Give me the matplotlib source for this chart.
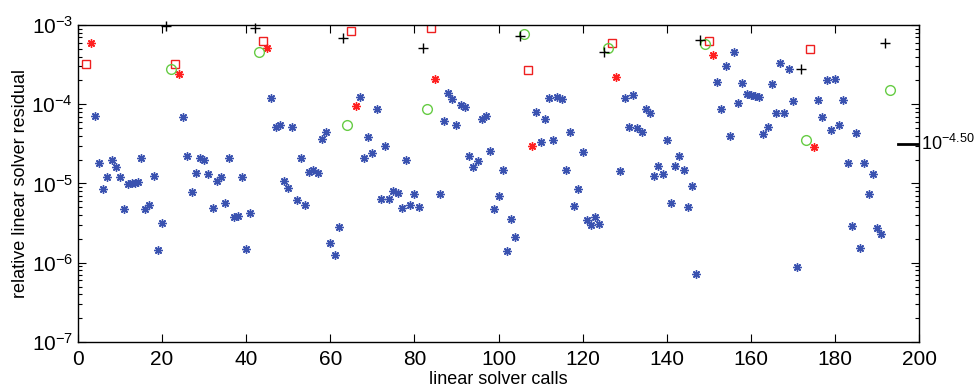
import numpy as np
import matplotlib
matplotlib.use("Agg")
import matplotlib.pyplot as plt
from matplotlib import font_manager

# blue asterisks: ordinary calls
blue_x = [4, 5, 6, 7, 8, 9, 10, 11, 12, 12.8, 13.5, 14.2, 15, 16, 17, 18, 19, 20,
          25, 26, 27, 28, 29, 30, 31, 32, 33, 34, 35, 36, 37, 38, 39, 40, 41,
          46, 47, 48, 49, 50, 51, 52, 53, 54, 55, 56, 57, 58, 59, 60, 61, 62,
          67, 68, 69, 70, 71, 72, 73, 74, 75, 76, 77, 78, 79, 80, 81,
          86, 87, 88, 89, 90, 91, 92, 93, 94, 95, 96, 97, 98, 99, 100, 101, 102, 103, 104,
          109, 110, 111, 112, 113, 114, 115, 116, 117, 118, 119, 120, 121, 122, 123, 124,
          129, 130, 131, 132, 133, 134, 135, 136, 137, 138, 139, 140, 141, 142, 143, 144, 145, 146, 147,
          152, 153, 154, 155, 156, 157, 158, 159, 160, 161, 162, 163, 164, 165, 166, 167, 168, 169, 170, 171,
          176, 177, 178, 179, 180, 181, 182, 183, 184, 185, 186, 187, 188, 189, 190, 191]
blue_y = [7.2e-5, 1.8e-5, 8.5e-6, 1.2e-5, 2.0e-5, 1.6e-5, 1.2e-5, 4.7e-6, 9.8e-6, 1.0e-5, 1.0e-5, 1.05e-5, 2.1e-5, 4.7e-6, 5.4e-6, 1.23e-5, 1.45e-6, 3.2e-6,
          6.9e-5, 2.2e-5, 7.8e-6, 1.35e-5, 2.1e-5, 2.0e-5, 1.3e-5, 4.9e-6, 1.07e-5, 1.2e-5, 5.6e-6, 2.1e-5, 3.8e-6, 3.9e-6, 1.2e-5, 1.5e-6, 4.3e-6,
          1.2e-4, 5.1e-5, 5.5e-5, 1.07e-5, 8.7e-6, 5.1e-5, 6.2e-6, 2.1e-5, 5.4e-6, 1.4e-5, 1.5e-5, 1.35e-5, 3.6e-5, 4.5e-5, 1.8e-6, 1.26e-6, 2.8e-6,
          1.23e-4, 2.1e-5, 3.9e-5, 2.4e-5, 8.7e-5, 6.3e-6, 2.95e-5, 6.3e-6, 8.1e-6, 7.6e-6, 4.9e-6, 2.0e-5, 5.4e-6, 7.4e-6, 5.0e-6,
          7.4e-6, 6.2e-5, 1.38e-4, 1.17e-4, 5.4e-5, 9.8e-5, 9.3e-5, 2.2e-5, 1.6e-5, 1.9e-5, 6.5e-5, 7.2e-5, 2.6e-5, 4.7e-6, 6.9e-6, 1.5e-5, 1.4e-6, 3.6e-6, 2.1e-6,
          7.9e-5, 3.3e-5, 6.5e-5, 1.2e-4, 3.5e-5, 1.23e-4, 1.17e-4, 1.5e-5, 4.5e-5, 5.2e-6, 8.5e-6, 2.5e-5, 3.5e-6, 3.0e-6, 3.8e-6, 3.1e-6,
          1.45e-5, 1.2e-4, 5.1e-5, 1.32e-4, 5.0e-5, 4.5e-5, 8.7e-5, 7.8e-5, 1.23e-5, 1.66e-5, 1.32e-5, 3.5e-5, 5.6e-6, 1.66e-5, 2.2e-5, 1.5e-5, 5.0e-6, 9.3e-6, 7.2e-7,
          1.9e-4, 8.7e-5, 3.0e-4, 4.0e-5, 4.5e-4, 1.05e-4, 1.86e-4, 1.35e-4, 1.32e-4, 1.26e-4, 1.23e-4, 4.2e-5, 5.1e-5, 1.82e-4, 7.8e-5, 3.3e-4, 7.8e-5, 2.75e-4, 1.1e-4, 8.9e-7,
          1.12e-4, 6.9e-5, 2.0e-4, 4.8e-5, 2.1e-4, 5.5e-5, 1.12e-4, 1.8e-5, 2.9e-6, 4.4e-5, 1.55e-6, 1.8e-5, 7.4e-6, 1.3e-5, 2.75e-6, 2.3e-6]

# red asterisks
red_star_x = [3, 24, 45, 66, 85, 108, 128, 151, 175]
red_star_y = [5.9e-4, 2.4e-4, 5.1e-4, 9.5e-5, 2.1e-4, 2.95e-5, 2.2e-4, 4.2e-4, 2.9e-5]

# red squares
red_sq_x = [2, 23, 44, 65, 84, 107, 127, 150, 174]
red_sq_y = [3.2e-4, 3.2e-4, 6.2e-4, 8.3e-4, 9.1e-4, 2.7e-4, 5.9e-4, 6.3e-4, 5.0e-4]

# green circles
green_x = [22, 43, 64, 83, 106, 126, 149, 173, 193]
green_y = [2.8e-4, 4.6e-4, 5.4e-5, 8.7e-5, 7.7e-4, 5.2e-4, 5.8e-4, 3.55e-5, 1.5e-4]

# black plus
plus_x = [21, 42, 63, 82, 105, 125, 148, 172, 192]
plus_y = [9.6e-4, 9.1e-4, 6.9e-4, 5.1e-4, 7.2e-4, 4.6e-4, 6.5e-4, 2.75e-4, 5.9e-4]

marker_level = 10 ** -4.5
marker_label = r"$10^{-4.50}$"

available = {f.name for f in font_manager.fontManager.ttflist}
fam = "Liberation Sans Narrow" if "Liberation Sans Narrow" in available else "Liberation Sans"
plt.rcParams["font.family"] = [fam, "DejaVu Sans"]
plt.rcParams["mathtext.fontset"] = "custom"
plt.rcParams["mathtext.rm"] = fam
plt.rcParams["mathtext.it"] = fam

fig = plt.figure(figsize=(9.8, 3.87), dpi=100)
ax = fig.add_axes([0.0796, 0.1163, 0.8582, 0.8191])

asterisk = (8, 2, 0)
ax.plot(blue_x, blue_y, linestyle="none", marker=asterisk, ms=6, mew=1.0, color="#3a52b0")
ax.plot(red_star_x, red_star_y, linestyle="none", marker=asterisk, ms=6, mew=1.0, color="#ff2020")
ax.plot(red_sq_x, red_sq_y, linestyle="none", marker="s", ms=6, mew=1.0, mfc="none", mec="#ee2020")
ax.plot(green_x, green_y, linestyle="none", marker="o", ms=7, mew=1.0, mfc="none", mec="#66cc44")
ax.plot(plus_x, plus_y, linestyle="none", marker="+", ms=7, mew=1.0, color="black", clip_on=False)

ax.set_yscale("log")
ax.set_xlim(0, 200)
ax.set_ylim(1e-7, 1e-3)
ax.set_xticks(np.arange(0, 201, 20))
ax.tick_params(which="both", direction="in", top=True, right=True, labelsize=15, width=0.8)
ax.tick_params(axis="x", pad=6)
ax.tick_params(which="major", length=6)
ax.tick_params(which="minor", length=3)
for s in ax.spines.values():
    s.set_linewidth(1.0)

ax.set_xlabel("linear solver calls", fontsize=13, labelpad=1)
ax.set_ylabel("relative linear solver residual", fontsize=13, labelpad=2)

# right-side level marker
ax.axhline(marker_level, xmin=0.975, xmax=1.0, color="black", lw=2)
ax.text(1.002, marker_level, marker_label, transform=ax.get_yaxis_transform(),
        va="center", ha="left", fontsize=13)

fig.savefig("out.png", dpi=100)
